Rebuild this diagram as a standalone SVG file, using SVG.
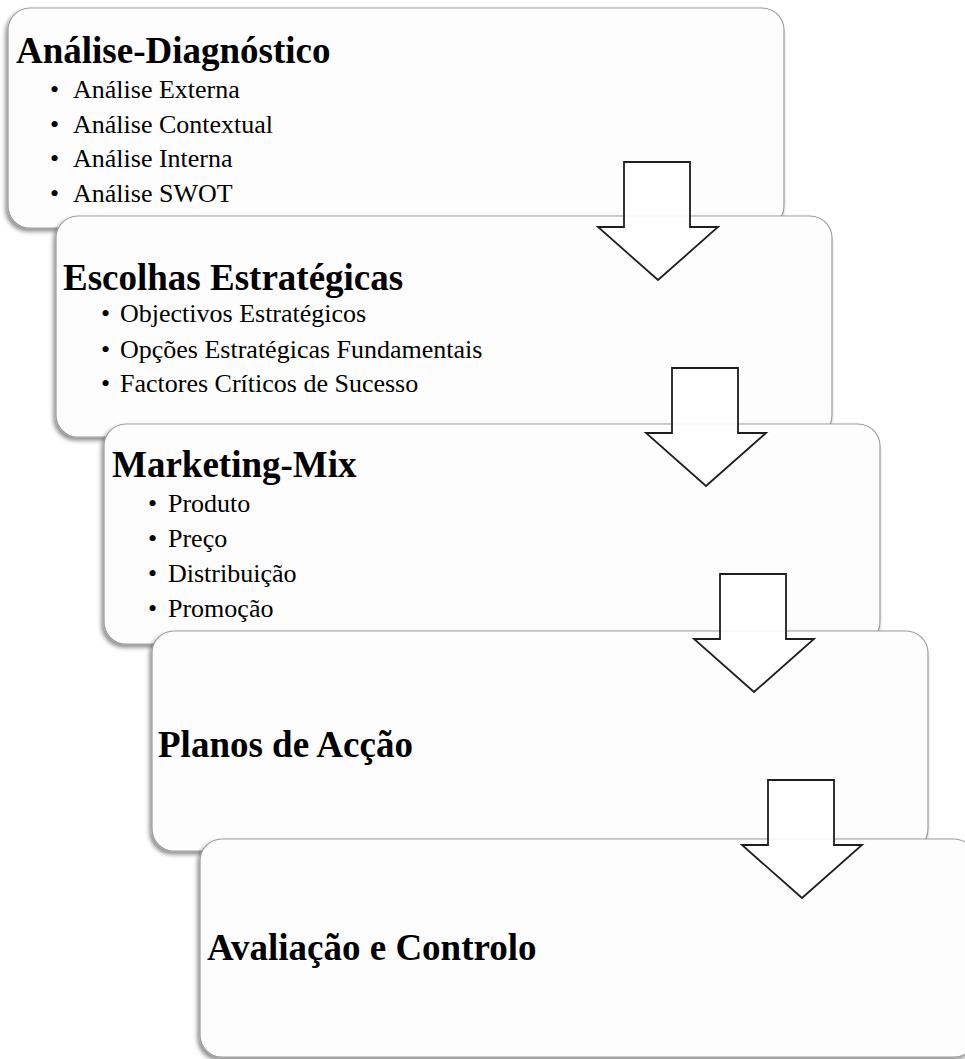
<svg xmlns="http://www.w3.org/2000/svg" xmlns:xlink="http://www.w3.org/1999/xlink" width="965" height="1059" viewBox="0 0 965 1059">
  <style>
    .box { fill: #fdfdfd; stroke: #9c9c9c; stroke-width: 1.2; filter: url(#shadow); }
    .title { font-family: "Liberation Serif", "Times New Roman", serif; font-weight: bold; font-size: 37px; fill: #000; }
    .item { font-family: "Liberation Serif", "Times New Roman", serif; font-size: 26px; fill: #000; }
    .arrow { fill: #ffffff; fill-opacity: 0.85; stroke: #1e1e1e; stroke-width: 1.8; stroke-linejoin: miter; }
  </style>
  <defs>
    <filter id="shadow" x="-5%" y="-5%" width="110%" height="115%">
      <feDropShadow dx="-2" dy="3" stdDeviation="2" flood-color="#000" flood-opacity="0.45"/>
    </filter>
    <!-- block arrow pointing down -->
    <path id="down" d="M624,162 H690 V227 H718 L658,280 L598,227 H624 Z"/>
  </defs>

  <rect width="965" height="1059" fill="#ffffff"/>

  <g id="step-analise">
    <rect class="box" x="8" y="8" width="776" height="220" rx="22"/>
    <text class="title" x="16" y="63">Análise-Diagnóstico</text>
    <text class="item" x="50" y="98">•</text><text class="item" x="73" y="98">Análise Externa</text>
    <text class="item" x="50" y="133">•</text><text class="item" x="73" y="133">Análise Contextual</text>
    <text class="item" x="50" y="167">•</text><text class="item" x="73" y="167">Análise Interna</text>
    <text class="item" x="50" y="202">•</text><text class="item" x="73" y="202">Análise SWOT</text>
  </g>

  <g id="step-escolhas">
    <rect class="box" x="56" y="216" width="776" height="221" rx="22"/>
    <text class="title" x="63" y="290">Escolhas Estratégicas</text>
    <text class="item" x="101" y="322">•</text><text class="item" x="120" y="322">Objectivos Estratégicos</text>
    <text class="item" x="101" y="358">•</text><text class="item" x="120" y="358">Opções Estratégicas Fundamentais</text>
    <text class="item" x="101" y="392">•</text><text class="item" x="120" y="392">Factores Críticos de Sucesso</text>
  </g>

  <g id="step-marketing">
    <rect class="box" x="104" y="424" width="776" height="220" rx="22"/>
    <text class="title" x="112" y="477">Marketing-Mix</text>
    <text class="item" x="148" y="512">•</text><text class="item" x="168" y="512">Produto</text>
    <text class="item" x="148" y="547">•</text><text class="item" x="168" y="547">Preço</text>
    <text class="item" x="148" y="582">•</text><text class="item" x="168" y="582">Distribuição</text>
    <text class="item" x="148" y="617">•</text><text class="item" x="168" y="617">Promoção</text>
  </g>

  <g id="step-planos">
    <rect class="box" x="152" y="631" width="776" height="220" rx="22"/>
    <text class="title" x="158" y="757">Planos de Acção</text>
  </g>

  <g id="step-avaliacao">
    <rect class="box" x="200" y="839" width="776" height="218" rx="22"/>
    <text class="title" x="207" y="960">Avaliação e Controlo</text>
  </g>

  <g id="connectors">
    <use xlink:href="#down" class="arrow"/>
    <use xlink:href="#down" class="arrow" transform="translate(48,206)"/>
    <use xlink:href="#down" class="arrow" transform="translate(96,412)"/>
    <use xlink:href="#down" class="arrow" transform="translate(144,618)"/>
  </g>
</svg>
